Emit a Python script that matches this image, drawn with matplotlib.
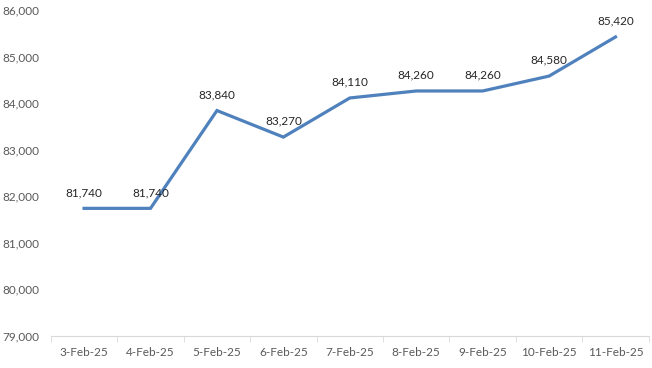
import matplotlib
matplotlib.use("Agg")
import matplotlib.pyplot as plt
import numpy as np

dates = ["3-Feb-25", "4-Feb-25", "5-Feb-25", "6-Feb-25", "7-Feb-25",
         "8-Feb-25", "9-Feb-25", "10-Feb-25", "11-Feb-25"]
prices = [81740, 81740, 83840, 83270, 84110, 84260, 84260, 84580, 85420]

plt.rcParams["font.family"] = ["Lato", "DejaVu Sans"]

fig = plt.figure(figsize=(6.52, 3.68), dpi=100)
ax = fig.add_axes([0.078, 0.087, 0.917, 0.886])

x = np.arange(len(dates))
ax.plot(x, prices, color="#4F81BD", lw=2.3, solid_joinstyle="miter")

for xi, v in zip(x, prices):
    ax.annotate(f"{v:,}", (xi, v), xytext=(0, 7.5), textcoords="offset points",
                ha="center", va="bottom", fontsize=8.5, color="#262626")

ax.set_xlim(-0.5, len(dates) - 0.5)
ax.set_ylim(79000, 86000)
ax.set_yticks(np.arange(79000, 86001, 1000))
ax.yaxis.set_major_formatter(matplotlib.ticker.FuncFormatter(lambda v, p: f"{int(v):,}"))
ax.set_xticks(x)
ax.set_xticklabels(dates)
ax.set_xticks(np.arange(-0.5, len(dates), 1), minor=True)

for s in ["top", "right", "left"]:
    ax.spines[s].set_visible(False)
ax.spines["bottom"].set_color("#D9D9D9")
ax.tick_params(axis="x", which="major", length=0, pad=8, labelsize=8.5, labelcolor="#595959")
ax.tick_params(axis="x", which="minor", length=4, color="#D9D9D9")
ax.tick_params(axis="y", length=0, pad=8, labelsize=8.5, labelcolor="#595959")

fig.savefig("out.png", dpi=100)
